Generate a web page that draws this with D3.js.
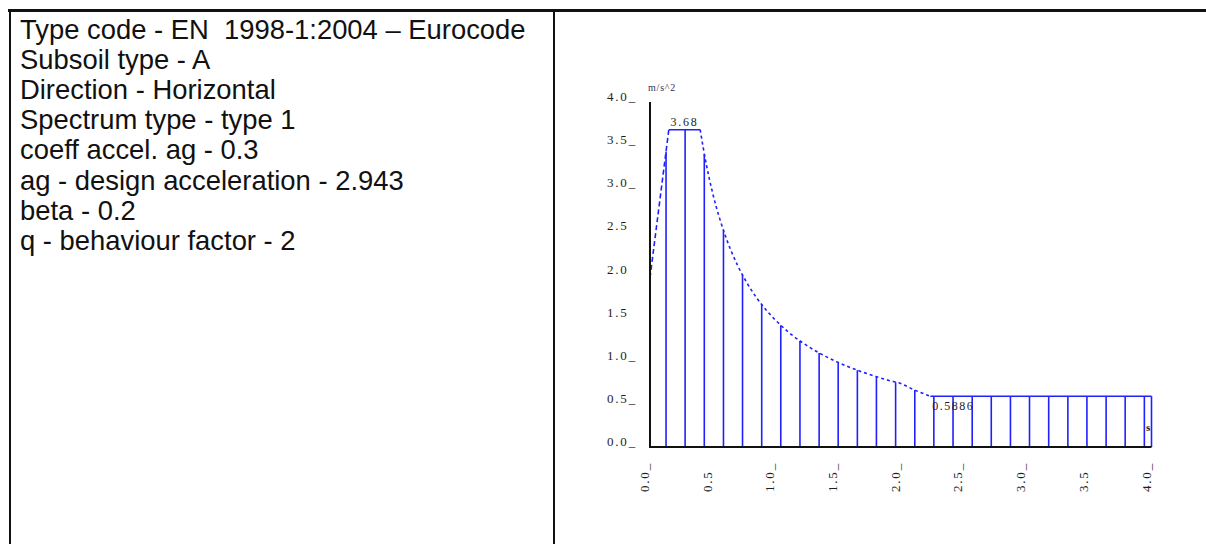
<!DOCTYPE html>
<html>
<head>
<meta charset="utf-8">
<script src="https://cdn.jsdelivr.net/npm/d3@7/dist/d3.min.js"></script>
<style>
  html, body { margin: 0; padding: 0; background: #fff; }
  svg { display: block; }
</style>
</head>
<body>
<svg id="chart" width="1206" height="544"></svg>
<script>
// ---------- data ----------
const infoLines = [
  "Type code - EN  1998-1:2004 \u2013 Eurocode",
  "Subsoil type - A",
  "Direction - Horizontal",
  "Spectrum type - type 1",
  "coeff accel. ag - 0.3",
  "ag - design acceleration - 2.943",
  "beta - 0.2",
  "q - behaviour factor - 2"
];

// y-axis tick values and labels (as drawn in the reference)
const yTickValues = [4.0, 3.5, 3.0, 2.5, 2.0, 1.5, 1.0, 0.5, 0.0];
const yTickLabels = ["4.0_", "3.5_", "3.0_", "2.5", "2.0", "1.5", "1.0_", "0.5_", "0.0_"];
// x-axis tick values and labels
const xTickValues = [0.0, 0.5, 1.0, 1.5, 2.0, 2.5, 3.0, 3.5, 4.0];
const xTickLabels = ["0.0_", "0.5", "1.0_", "1.5_", "2.0_", "2.5_", "3.0_", "3.5", "4.0_"];

// spectrum curve (period s, acceleration m/s^2)
const curveRiseT  = [0.0, 0.15];
const curveRiseSa = [1.962, 3.679];
const peakT  = [0.15, 0.40];
const peakSa = [3.679, 3.679];
const curveFallT  = [0.40, 0.45, 0.50, 0.60, 0.70, 0.80, 0.90, 1.00, 1.10, 1.20, 1.30, 1.40, 1.50, 1.60, 1.70, 1.80, 1.90, 2.00, 2.10, 2.236];
const curveFallSa = [3.679, 3.270, 2.943, 2.453, 2.102, 1.839, 1.635, 1.472, 1.338, 1.226, 1.132, 1.051, 0.981, 0.920, 0.866, 0.818, 0.774, 0.736, 0.667, 0.589];
const floorT  = [2.236, 4.0];
const floorSa = [0.5886, 0.5886];

// vertical bars (period, value)
const barT  = [0.128, 0.280, 0.433, 0.586, 0.738, 0.891, 1.043, 1.196, 1.349, 1.501, 1.654, 1.806, 1.959, 2.112, 2.264, 2.417, 2.570, 2.722, 2.875, 3.027, 3.180, 3.333, 3.485, 3.638, 3.790, 3.943, 4.0];
const barSa = [3.427, 3.679, 3.398, 2.511, 1.994, 1.652, 1.411, 1.230, 1.091, 0.980, 0.890, 0.815, 0.751, 0.660, 0.589, 0.589, 0.589, 0.589, 0.589, 0.589, 0.589, 0.589, 0.589, 0.589, 0.589, 0.589, 0.589];

const peakLabel = "3.68";
const floorLabel = "0.5886";
const unitY = "m/s^2";
const unitX = "s";

// ---------- drawing ----------
const svg = d3.select("#chart");

// frame
svg.append("line").attr("x1", 8).attr("x2", 1206).attr("y1", 10.5).attr("y2", 10.5)
  .attr("stroke", "#111").attr("stroke-width", 3);
svg.append("line").attr("x1", 10).attr("x2", 10).attr("y1", 10).attr("y2", 544)
  .attr("stroke", "#111").attr("stroke-width", 2);
svg.append("line").attr("x1", 554).attr("x2", 554).attr("y1", 10).attr("y2", 544)
  .attr("stroke", "#111").attr("stroke-width", 2);

// info text
svg.append("g").selectAll("text").data(infoLines).join("text")
  .attr("x", 20)
  .attr("y", (d, i) => 39 + i * 30.1)
  .attr("font-family", "'Liberation Sans', Arial, sans-serif")
  .attr("font-size", 27.4)
  .attr("fill", "#111")
  .attr("xml:space", "preserve")
  .style("white-space", "pre")
  .text(d => d);

// scales
const x = d3.scaleLinear().domain([0, 4]).range([650, 1151.5]);
const y = d3.scaleLinear().domain([0, 4]).range([447, 102]);

const blue = "#2020ff";
const lbl = "'Liberation Serif', 'DejaVu Serif', serif";
const lblColor = "#1e1e1e";

// bars
svg.append("g").selectAll("line").data(barT.map((t, i) => [t, barSa[i]])).join("line")
  .attr("x1", d => x(d[0])).attr("x2", d => x(d[0]))
  .attr("y1", y(0)).attr("y2", d => y(d[1]))
  .attr("stroke", blue).attr("stroke-width", 1.6);

const line = d3.line().x(d => x(d[0])).y(d => y(d[1]));
const lineSmooth = d3.line().x(d => x(d[0])).y(d => y(d[1])).curve(d3.curveMonotoneX);

svg.append("path").datum(curveRiseT.map((t, i) => [t, curveRiseSa[i]]))
  .attr("d", line).attr("fill", "none").attr("stroke", blue)
  .attr("stroke-width", 1.6).attr("stroke-dasharray", "5,3");
svg.append("path").datum(curveFallT.map((t, i) => [t, curveFallSa[i]]))
  .attr("d", lineSmooth).attr("fill", "none").attr("stroke", blue)
  .attr("stroke-width", 1.6).attr("stroke-dasharray", "3,3");
svg.append("path").datum(peakT.map((t, i) => [t, peakSa[i]]))
  .attr("d", line).attr("fill", "none").attr("stroke", blue).attr("stroke-width", 1.6);
svg.append("path").datum(floorT.map((t, i) => [t, floorSa[i]]))
  .attr("d", line).attr("fill", "none").attr("stroke", blue).attr("stroke-width", 1.6);

// axes lines
svg.append("line").attr("x1", x(0)).attr("x2", x(0)).attr("y1", y(4)).attr("y2", y(0) + 1)
  .attr("stroke", "#111").attr("stroke-width", 2);
svg.append("line").attr("x1", x(0)).attr("x2", x(4)).attr("y1", y(0)).attr("y2", y(0))
  .attr("stroke", "#111").attr("stroke-width", 2);

// y tick labels
svg.append("g").selectAll("text").data(yTickValues).join("text")
  .attr("x", 607)
  .attr("y", d => y(d) - 1)
  .attr("font-family", lbl).attr("font-size", 13).attr("letter-spacing", 1.8)
  .attr("fill", lblColor)
  .text((d, i) => yTickLabels[i]);

// x tick labels (rotated)
svg.append("g").selectAll("text").data(xTickValues).join("text")
  .attr("transform", d => `translate(${x(d) - 1},492) rotate(-90)`)
  .attr("font-family", lbl).attr("font-size", 13).attr("letter-spacing", 1.8)
  .attr("fill", lblColor)
  .text((d, i) => xTickLabels[i]);

// annotations
svg.append("text").attr("x", (x(peakT[0]) + x(peakT[1])) / 2).attr("y", 126)
  .attr("text-anchor", "middle")
  .attr("font-family", lbl).attr("font-size", 12).attr("letter-spacing", 1.8)
  .attr("fill", lblColor).text(peakLabel);
svg.append("text").attr("x", x(floorT[0]) + 2).attr("y", 410)
  .attr("font-family", lbl).attr("font-size", 12).attr("letter-spacing", 1.5)
  .attr("fill", lblColor).text(floorLabel);
svg.append("text").attr("x", 648).attr("y", 91)
  .attr("font-family", lbl).attr("font-size", 10).attr("letter-spacing", 0.8)
  .attr("fill", "#333355").text(unitY);
svg.append("text").attr("x", 1146).attr("y", 431)
  .attr("font-family", lbl).attr("font-size", 11).attr("font-weight", "bold")
  .attr("fill", "#111").text(unitX);
</script>
</body>
</html>
